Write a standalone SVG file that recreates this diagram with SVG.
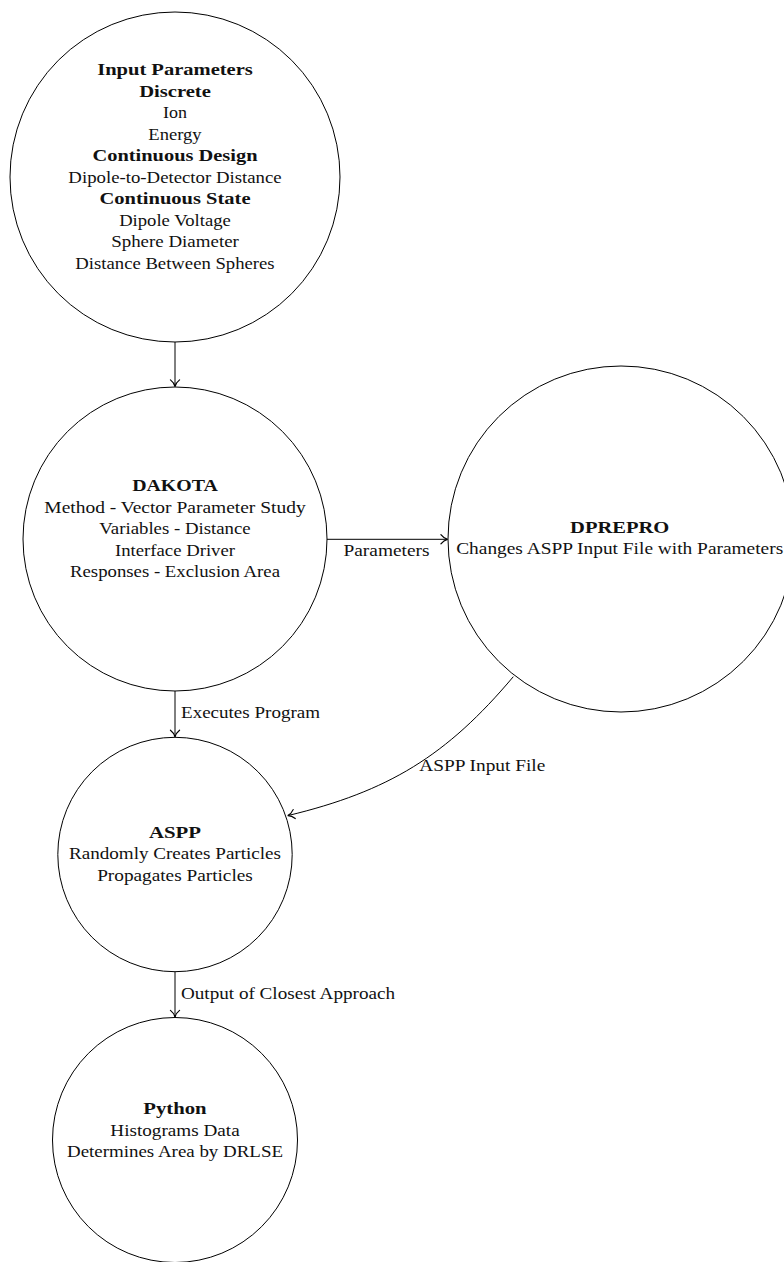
<svg xmlns="http://www.w3.org/2000/svg" width="784" height="1262" viewBox="0 0 784 1262" font-family="'Liberation Serif', 'DejaVu Serif', serif">
<style>
.node{fill:#fff;stroke:#000;stroke-width:1}
.edge{fill:none;stroke:#000;stroke-width:1;marker-end:url(#to)}
text{font-family:'Liberation Serif','DejaVu Serif',serif;font-size:17px;fill:#111;text-anchor:middle}
.b{font-weight:bold}
.lbl{text-anchor:start}
</style>
<defs>
<marker id="to" markerUnits="userSpaceOnUse" markerWidth="12" markerHeight="12" viewBox="-7 -5 8 10" refX="0" refY="0" orient="auto" overflow="visible">
<path d="M -5.5 -3.8 C -3.8 -1.6 -1.6 -0.35 0 0 C -1.6 0.35 -3.8 1.6 -5.5 3.8" fill="none" stroke="#000" stroke-width="1" stroke-linecap="round"/>
</marker>
</defs>
<g id="connectors">
<line class="edge" x1="175" y1="342" x2="175" y2="386.5"/>
<line class="edge" x1="327" y1="539.3" x2="447.5" y2="539.3"/>
<line class="edge" x1="175" y1="691" x2="175" y2="736.8"/>
<path class="edge" d="M 513.3 676.7 C 446.6 755.9 388.6 791.4 287.8 815.6"/>
<line class="edge" x1="175" y1="971.7" x2="175" y2="1017"/>
<text class="lbl" x="343.5" y="556" textLength="86" lengthAdjust="spacingAndGlyphs">Parameters</text>
<text class="lbl" x="181" y="718" textLength="139" lengthAdjust="spacingAndGlyphs">Executes Program</text>
<text class="lbl" x="419.3" y="770.7" textLength="126" lengthAdjust="spacingAndGlyphs">ASPP Input File</text>
<text class="lbl" x="181" y="998.5" textLength="214" lengthAdjust="spacingAndGlyphs">Output of Closest Approach</text>
</g>
<g id="input-parameters">
<circle class="node" cx="175" cy="177" r="165"/>
<text class="b" x="175" y="75" textLength="155.7" lengthAdjust="spacingAndGlyphs">Input Parameters</text>
<text class="b" x="175" y="96.5" textLength="71.7" lengthAdjust="spacingAndGlyphs">Discrete</text>
<text x="175" y="118" textLength="24" lengthAdjust="spacingAndGlyphs">Ion</text>
<text x="175" y="139.5" textLength="53.3" lengthAdjust="spacingAndGlyphs">Energy</text>
<text class="b" x="175" y="161" textLength="165" lengthAdjust="spacingAndGlyphs">Continuous Design</text>
<text x="175" y="182.5" textLength="213.3" lengthAdjust="spacingAndGlyphs">Dipole-to-Detector Distance</text>
<text class="b" x="175" y="204" textLength="151" lengthAdjust="spacingAndGlyphs">Continuous State</text>
<text x="175" y="225.5" textLength="111.7" lengthAdjust="spacingAndGlyphs">Dipole Voltage</text>
<text x="175" y="247" textLength="127.7" lengthAdjust="spacingAndGlyphs">Sphere Diameter</text>
<text x="175" y="268.5" textLength="199.3" lengthAdjust="spacingAndGlyphs">Distance Between Spheres</text>
</g>
<g id="dakota">
<circle class="node" cx="175" cy="539" r="152"/>
<text class="b" x="175" y="491" textLength="85.7" lengthAdjust="spacingAndGlyphs">DAKOTA</text>
<text x="175" y="512.5" textLength="261.3" lengthAdjust="spacingAndGlyphs">Method - Vector Parameter Study</text>
<text x="175" y="534" textLength="151.3" lengthAdjust="spacingAndGlyphs">Variables - Distance</text>
<text x="175" y="555.5" textLength="120" lengthAdjust="spacingAndGlyphs">Interface Driver</text>
<text x="175" y="577" textLength="210" lengthAdjust="spacingAndGlyphs">Responses - Exclusion Area</text>
</g>
<g id="dprepro">
<circle class="node" cx="621" cy="539" r="173"/>
<text class="b" x="619.7" y="532.7" textLength="99.3" lengthAdjust="spacingAndGlyphs">DPREPRO</text>
<text x="619.7" y="554.2" textLength="327" lengthAdjust="spacingAndGlyphs">Changes ASPP Input File with Parameters</text>
</g>
<g id="aspp">
<circle class="node" cx="175" cy="854.5" r="117.2"/>
<text class="b" x="175" y="837.5" textLength="52" lengthAdjust="spacingAndGlyphs">ASPP</text>
<text x="175" y="859" textLength="212" lengthAdjust="spacingAndGlyphs">Randomly Creates Particles</text>
<text x="175" y="880.5" textLength="155.7" lengthAdjust="spacingAndGlyphs">Propagates Particles</text>
</g>
<g id="python">
<circle class="node" cx="175" cy="1140" r="122.5"/>
<text class="b" x="175" y="1114" textLength="63.3" lengthAdjust="spacingAndGlyphs">Python</text>
<text x="175" y="1135.5" textLength="129.3" lengthAdjust="spacingAndGlyphs">Histograms Data</text>
<text x="175" y="1157" textLength="216" lengthAdjust="spacingAndGlyphs">Determines Area by DRLSE</text>
</g>
</svg>
